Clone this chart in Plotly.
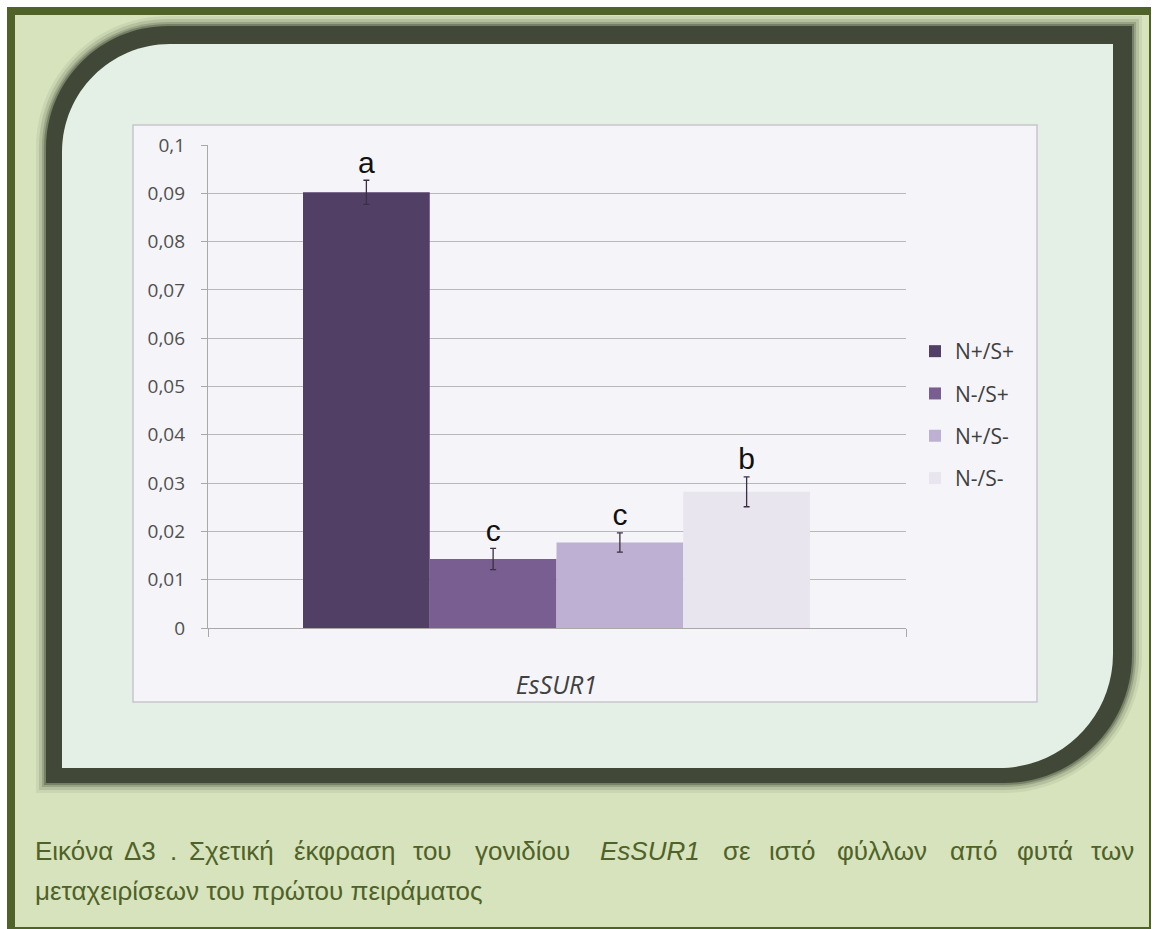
import plotly.graph_objects as go

# ---------------- data ----------------
categories = ["N+/S+", "N-/S+", "N+/S-", "N-/S-"]
values = [0.0902, 0.0143, 0.0177, 0.0282]
errors = [0.0025, 0.0022, 0.0020, 0.0031]
letters = ["a", "c", "c", "b"]
colors = ["#523f66", "#785e91", "#bdb0d3", "#e9e5ef"]
gene_label = "EsSUR1"
y_ticks = [0, 0.01, 0.02, 0.03, 0.04, 0.05, 0.06, 0.07, 0.08, 0.09, 0.1]
caption_line1 = ["Εικόνα", "Δ3", ".", "Σχετική", "έκφραση", "του", "γονιδίου",
                 "<i>EsSUR1</i>", "σε", "ιστό", "φύλλων", "από", "φυτά", "των"]
caption_line1_x = [33, 122, 168, 187, 292, 411, 473, 598, 721, 767, 835, 948, 1015, 1089]
caption_line2 = "μεταχειρίσεων του πρώτου πειράματος"

# ---------------- geometry helpers (page pixels -> paper) ----------------
W, H = 1152, 929


def X(px):
    return px / W


def Y(py):
    return 1 - py / H


def rrect(x0, y0, x1, y1, rtl, rbr):
    k = 0.5523
    p = [f"M{X(x0)},{Y(y1)}",
         f"L{X(x0)},{Y(y0 + rtl)}",
         f"C{X(x0)},{Y(y0 + rtl - k * rtl)} {X(x0 + rtl - k * rtl)},{Y(y0)} {X(x0 + rtl)},{Y(y0)}",
         f"L{X(x1)},{Y(y0)}",
         f"L{X(x1)},{Y(y1 - rbr)}",
         f"C{X(x1)},{Y(y1 - rbr + k * rbr)} {X(x1 - rbr + k * rbr)},{Y(y1)} {X(x1 - rbr)},{Y(y1)}",
         "Z"]
    return " ".join(p)


shapes = []


def rect(x0, y0, x1, y1, fill, line=None, lw=0):
    shapes.append(dict(type="rect", xref="paper", yref="paper", layer="below",
                       x0=X(x0), x1=X(x1), y0=Y(y1), y1=Y(y0),
                       fillcolor=fill, line=dict(color=line or fill, width=lw)))


# outer olive caption box
rect(7, 7, 1151, 929, "#4f6228")
rect(15, 15, 1149, 927, "#d7e3bd")

# blurred dark frame (shadow layers)
for i, op in zip([10, 7, 4, 2], [0.08, 0.14, 0.22, 0.35]):
    shapes.append(dict(type="path", xref="paper", yref="paper", layer="below",
                       path=rrect(46 - i, 26 - i, 1132 + i, 783 + i, 122 + i, 128 + i),
                       fillcolor=f"rgba(55,62,45,{op})", line=dict(width=0)))
shapes.append(dict(type="path", xref="paper", yref="paper", layer="below",
                   path=rrect(46, 26, 1132, 783, 122, 128),
                   fillcolor="#414838", line=dict(width=0)))
shapes.append(dict(type="path", xref="paper", yref="paper", layer="below",
                   path=rrect(62, 44, 1113, 768, 108, 114),
                   fillcolor="#e4f0e6", line=dict(width=0)))

# chart area
rect(133, 125, 1037, 702, "#f5f4f9", "#c6c6ca", 1.5)

# ---------------- traces ----------------
fig = go.Figure()
xs = list(range(len(categories)))
for i, (cat, v, e, c) in enumerate(zip(categories, values, errors, colors)):
    fig.add_trace(go.Bar(
        x=[xs[i]], y=[v], width=1, name=cat, marker=dict(color=c, line=dict(width=0)),
        error_y=dict(type="data", array=[e], color="#3b2f45", thickness=1.3, width=3),
        legendgroup=cat, hoverinfo="skip"))

fig.add_trace(go.Scatter(
    x=xs, y=[v + e for v, e in zip(values, errors)], mode="text", text=letters,
    textposition="top center", showlegend=False, hoverinfo="skip",
    textfont=dict(family="Liberation Sans, Arial", size=30, color="#111111")))

# ---------------- layout ----------------
px_per_unit = (810 - 303) / 4
x_lo = -0.5 - (303 - 208) / px_per_unit
x_hi = 3.5 + (906 - 810) / px_per_unit

cap_font = dict(family="Liberation Sans, Arial", size=26, color="#4f6228")
annotations = []
for w, x in zip(caption_line1, caption_line1_x):
    annotations.append(dict(text=w, x=X(x), y=Y(851), xref="paper", yref="paper",
                            xanchor="left", yanchor="middle", showarrow=False, font=cap_font))
annotations.append(dict(text=caption_line2, x=X(33), y=Y(891), xref="paper", yref="paper",
                        xanchor="left", yanchor="middle", showarrow=False, font=cap_font))

fig.update_layout(
    width=W, height=H, margin=dict(l=0, r=0, t=0, b=0, pad=0, autoexpand=False),
    paper_bgcolor="white", plot_bgcolor="white",
    separators=",.",
    barmode="overlay",
    shapes=shapes, annotations=annotations,
    xaxis=dict(domain=[X(208), X(906)], range=[x_lo, x_hi], showgrid=False, zeroline=False,
               showline=True, linecolor="#a8a8a8", linewidth=1.3,
               tickvals=[1.5], ticktext=[f"<i>{gene_label}</i>"], ticks="",
               ticklabelstandoff=35, automargin=False,
               tickfont=dict(family="Open Sans", size=25, color="#404040"),
               minor=dict(tickvals=[x_lo, x_hi], ticks="outside", ticklen=8,
                          tickcolor="#a8a8a8", tickwidth=1.3),
               fixedrange=True),
    yaxis=dict(domain=[Y(628), Y(145)], range=[0, 0.1], tickvals=y_ticks,
               showgrid=True, gridcolor="#b8b8b8", gridwidth=1.3, zeroline=False,
               showline=True, linecolor="#a8a8a8", linewidth=1.3,
               ticks="outside", ticklen=6, tickcolor="#a8a8a8", tickwidth=1.3,
               ticklabelstandoff=12, automargin=False,
               tickfont=dict(family="Open Sans", size=19, color="#505050"),
               fixedrange=True),
    legend=dict(x=X(915), y=Y(331), xanchor="left", yanchor="top",
                bgcolor="rgba(0,0,0,0)", tracegroupgap=12,
                font=dict(family="Open Sans", size=21, color="#404040"),
                itemwidth=30),
    showlegend=True,
)

# pin the figure to the window's top-left corner so the page never scrolls
pin_js = ("document.body.style.margin='0';document.body.style.overflow='hidden';"
          "var d=document.getElementById('{plot_id}');"
          "d.style.position='fixed';d.style.top='0px';d.style.left='0px';")

fig.write_html("out.html", post_script=pin_js, config={"displayModeBar": False})
